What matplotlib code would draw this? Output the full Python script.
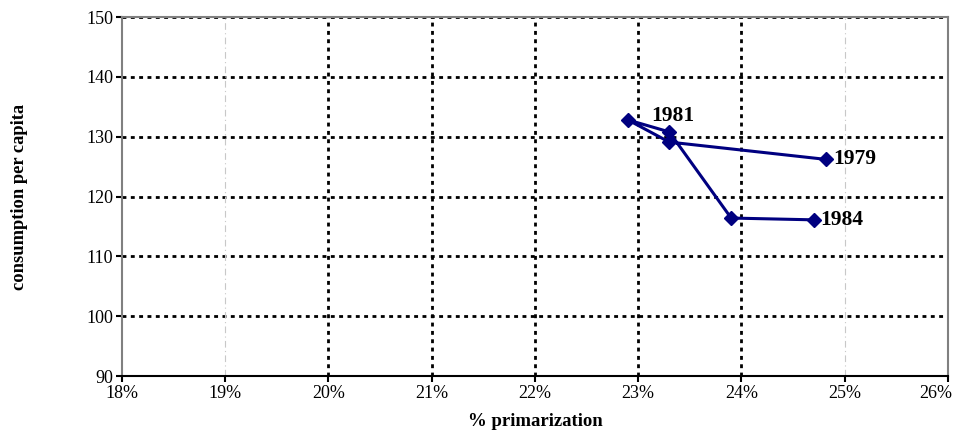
import numpy as np
import matplotlib
matplotlib.use("Agg")
import matplotlib.pyplot as plt
from matplotlib.ticker import FuncFormatter
from matplotlib.transforms import ScaledTranslation

# data (x in %, y consumption per capita)
primarization = [24.82, 23.30, 22.90, 23.30, 23.90, 24.70]
consumption = [126.2, 129.1, 132.8, 130.8, 116.4, 116.1]
point_labels = ["1979", "", "1981", "", "", "1984"]

x_ticks = [18, 19, 20, 21, 22, 23, 24, 25, 26]
y_ticks = [90, 100, 110, 120, 130, 140, 150]

plt.rcParams['font.family'] = ['Liberation Serif', 'DejaVu Serif']

fig = plt.figure(figsize=(9.56, 4.36), dpi=100)
ax = fig.add_axes([0.1276, 0.1376, 0.8640, 0.8234])

ax.set_xlim(18, 26)
ax.set_ylim(90, 150)
ax.set_xticks(x_ticks)
ax.set_yticks(y_ticks)
ax.xaxis.set_major_formatter(FuncFormatter(lambda v, p: "%d%%" % v))

# grid: dotted black, with the two faint lines
for yv in y_ticks[1:]:
    ax.axhline(yv, color='black', lw=2, dashes=(1.4, 1.6), zorder=1)
for xv in x_ticks[1:-1]:
    if xv in (19, 25):
        ax.axvline(xv, color='#c8c8c8', lw=0.8, dashes=(6, 3, 1, 3), zorder=1)
    else:
        ax.axvline(xv, color='black', lw=2, dashes=(1.4, 1.6), zorder=1)

ax.plot(primarization, consumption, color='#000080', lw=2.2, marker='D',
        markersize=7.5, zorder=3)

for xv, yv, lab in zip(primarization, consumption, point_labels):
    if lab == "1981":
        ax.annotate(lab, (xv, yv), xytext=(17, 3), textcoords='offset points',
                    fontsize=15.5, fontweight='bold', va='center', ha='left')
    elif lab:
        ax.annotate(lab, (xv, yv), xytext=(5, 0), textcoords='offset points',
                    fontsize=15.5, fontweight='bold', va='center', ha='left')

ax.spines['left'].set_color('#808080')
ax.spines['left'].set_linewidth(1.5)
ax.spines['right'].set_color('#808080')
ax.spines['right'].set_linewidth(1.5)
ax.spines['top'].set_color('#808080')
ax.spines['top'].set_linewidth(1.5)
ax.spines['bottom'].set_color('black')
ax.spines['bottom'].set_linewidth(1.5)

ax.tick_params(axis='both', direction='out', length=4.5, width=1.5,
               color='black', labelsize=13, pad=2)

# last x label sits a little left of its tick, as in the original
fig.canvas.draw()
last = ax.get_xticklabels()[-1]
last.set_transform(last.get_transform() + ScaledTranslation(-0.12, 0, fig.dpi_scale_trans))

ax.set_xlabel("% primarization", fontsize=13.5, fontweight='bold', labelpad=8)
ax.set_ylabel("consumption per capita", fontsize=13.3, fontweight='bold', labelpad=42)

fig.savefig("out.png", dpi=100)
